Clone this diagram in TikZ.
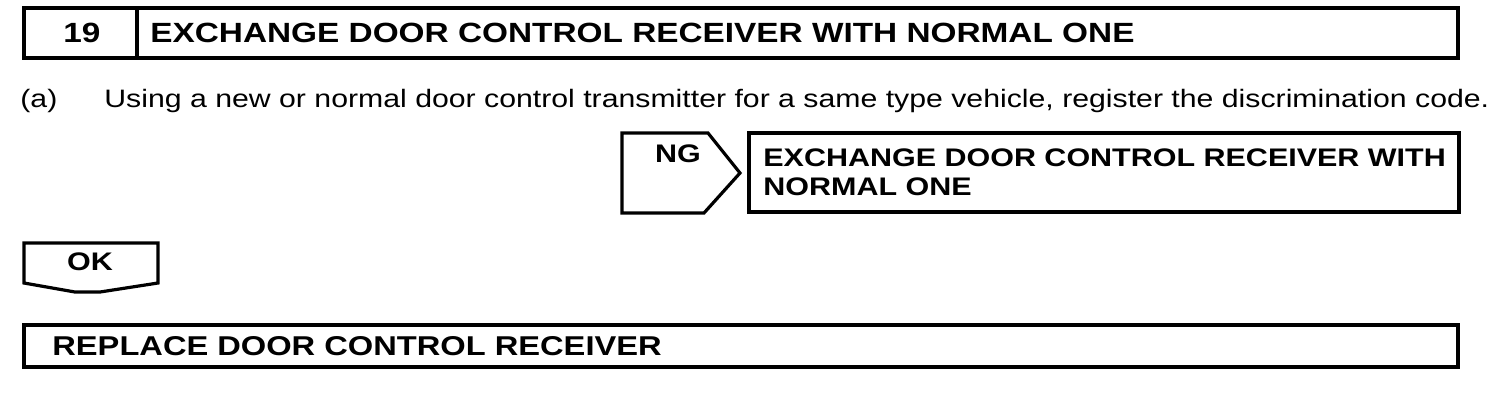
\documentclass[tikz,border=0pt]{standalone}
\usepackage{fontspec}
\setmainfont{Liberation Sans}[FakeStretch=1.2]
\usepackage{tikz}
\usetikzlibrary{positioning}

\begin{document}
\begin{tikzpicture}[x=0.5pt, y=-0.5pt,
    frame/.style={line width=1.6pt, line join=miter},
    head/.style={font=\fontsize{13.9}{14.5}\selectfont\bfseries, inner sep=0pt},
    boxtext/.style={font=\fontsize{12.7}{14.5}\selectfont\bfseries, inner sep=0pt},
    body/.style={font=\fontsize{12.6}{14}\selectfont, inner sep=0pt}]
    \useasboundingbox (0,0) rectangle (1504,404);
    % step header
    \draw[frame] (24,8) rectangle (1458,58);
    \draw[frame] (137,8) -- (137,58);
    \node[head] (num) at (82,33) {19};
    \node[head, anchor=west] (title) at (150,33) {EXCHANGE DOOR CONTROL RECEIVER WITH NORMAL ONE};
    % check item
    \node[body, anchor=west] (item) at (20,101) {(a)};
    \node[body, anchor=west] (check) at (104,101) {Using a new or normal door control transmitter for a same type vehicle, register the discrimination code.};
    % NG branch
    \draw[frame] (622,133) -- (708,133) -- (740,173) -- (704,213) -- (622,213) -- cycle;
    \node[boxtext] (ng) at (678,154) {NG};
    \draw[frame] (749,133) rectangle (1459,212);
    \node[boxtext, anchor=west, align=left] (fix) at (763,172) {EXCHANGE DOOR CONTROL RECEIVER WITH\\NORMAL ONE};
    % OK branch
    \draw[frame] (24,243) -- (158,243) -- (158,283) -- (100,292) -- (75,292) -- (24,283) -- cycle;
    \node[boxtext] (ok) at (90,262) {OK};
    \draw[frame] (24,325) rectangle (1458,367);
    \node[boxtext, font=\fontsize{13.6}{14.5}\selectfont\bfseries, anchor=west] (replace) at (52,346) {REPLACE DOOR CONTROL RECEIVER};
\end{tikzpicture}
\end{document}
